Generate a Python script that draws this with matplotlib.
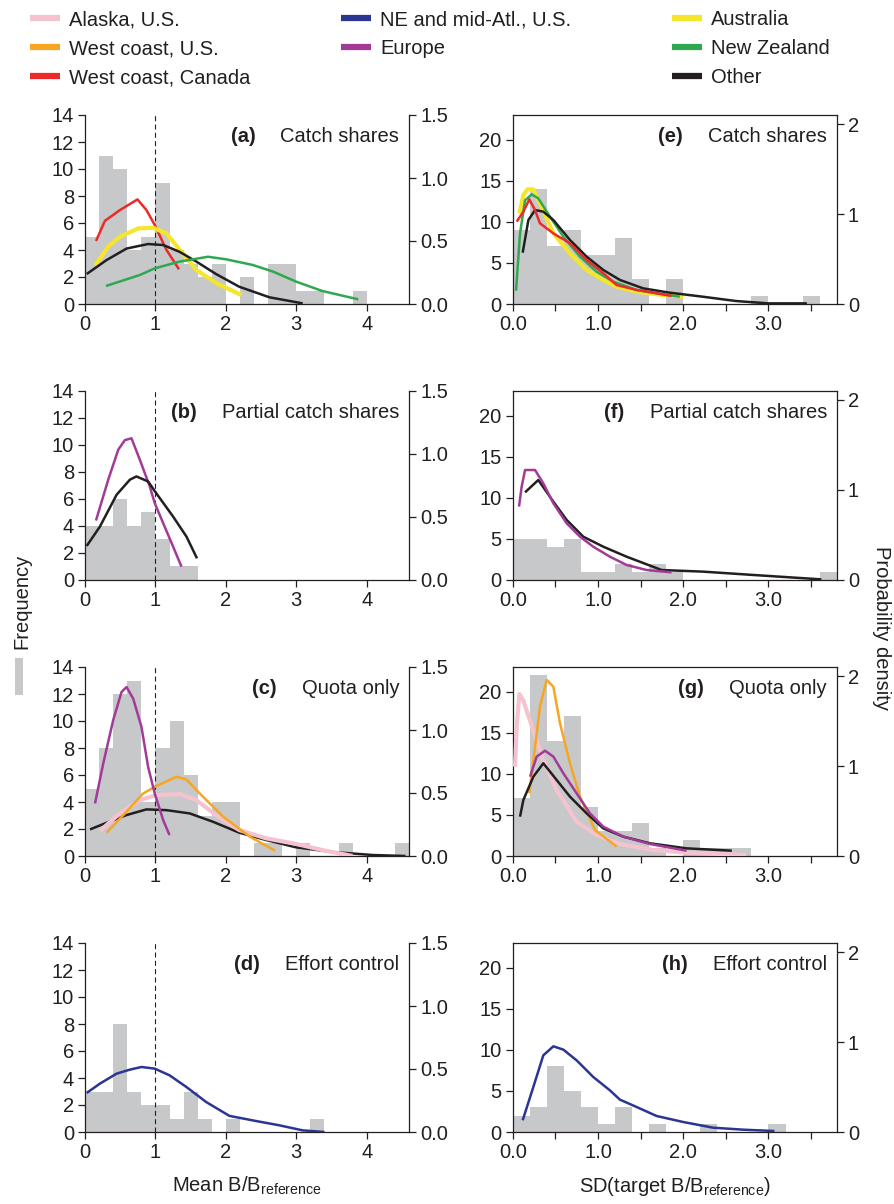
import matplotlib
matplotlib.use('Agg')
import matplotlib.pyplot as plt
from matplotlib.lines import Line2D
from matplotlib.patches import Rectangle

plt.rcParams['font.family'] = ['Liberation Sans', 'DejaVu Sans']
plt.rcParams['mathtext.default'] = 'regular'
plt.rcParams['font.size'] = 14.5

INK = '#231f20'
GREY = '#c7c8ca'
c_alaska = '#f4c3cf'
c_ne = '#2b3592'
c_aus = '#f5e62b'
c_wus = '#f6a623'
c_eur = '#a23b97'
c_nz = '#2fa84f'
c_can = '#ec2a2a'
c_other = '#231f20'

# histogram counts, bins of width 0.2 starting at 0
a_counts = [5, 11, 10, 4, 5, 9, 4, 3, 2, 3, 0, 2, 0, 3, 3, 1, 1, 0, 0, 1]
b_counts = [4, 4, 6, 4, 5, 3, 1, 1]
c_counts = [5, 8, 12, 13, 4, 8, 10, 6, 3, 4, 4, 0, 1, 1, 0, 1, 0, 0, 1, 0, 0, 0, 1]
d_counts = [3, 3, 8, 3, 2, 2, 1, 3, 1, 0, 1, 0, 0, 0, 0, 0, 1]
e_counts = [9, 14, 7, 9, 6, 6, 8, 3, 0, 3, 0, 0, 0, 0, 1, 0, 0, 1]
f_counts = [5, 5, 4, 5, 1, 1, 2, 1, 2, 1, 0, 0, 0, 0, 0, 0, 0, 0, 1]
g_counts = [7, 22, 14, 17, 6, 3, 3, 4, 1, 0, 2, 1, 1, 1]
h_counts = [2, 3, 8, 5, 3, 1, 3, 0, 1, 0, 0, 1, 0, 0, 0, 1]

# probability density curves
a_can_x = [0.156, 0.283, 0.495, 0.745, 0.873, 0.99, 1.156, 1.335]
a_can_y = [0.50, 0.66, 0.745, 0.83, 0.745, 0.627, 0.43, 0.275]
a_aus_x = [0.142, 0.33, 0.495, 0.755, 0.967, 1.156, 1.39, 1.58, 1.87, 2.22]
a_aus_y = [0.304, 0.455, 0.534, 0.60, 0.605, 0.56, 0.40, 0.27, 0.164, 0.071]
a_oth_x = [0.024, 0.307, 0.59, 0.896, 1.11, 1.34, 1.58, 1.86, 2.19, 2.62, 3.09]
a_oth_y = [0.238, 0.349, 0.44, 0.476, 0.468, 0.415, 0.337, 0.238, 0.137, 0.053, 0.005]
a_nz_x = [0.297, 0.778, 0.99, 1.34, 1.745, 2.0, 2.38, 2.67, 3.0, 3.37, 3.88]
a_nz_y = [0.143, 0.23, 0.283, 0.336, 0.375, 0.355, 0.31, 0.257, 0.177, 0.103, 0.037]

b_eur_x = [0.156, 0.33, 0.472, 0.566, 0.66, 0.778, 0.92, 0.99, 1.11, 1.25, 1.37]
b_eur_y = [0.472, 0.796, 1.034, 1.11, 1.125, 0.955, 0.742, 0.61, 0.451, 0.266, 0.106]
b_oth_x = [0.024, 0.212, 0.448, 0.637, 0.73, 0.896, 1.01, 1.25, 1.44, 1.59]
b_oth_y = [0.27, 0.424, 0.676, 0.796, 0.822, 0.782, 0.69, 0.504, 0.345, 0.172]

c_eur_x = [0.142, 0.259, 0.4, 0.519, 0.59, 0.684, 0.802, 0.896, 0.99, 1.11, 1.2]
c_eur_y = [0.417, 0.734, 1.078, 1.302, 1.341, 1.249, 1.024, 0.707, 0.496, 0.285, 0.166]
c_wus_x = [0.307, 0.566, 0.825, 0.99, 1.297, 1.44, 1.63, 1.96, 2.34, 2.70]
c_wus_y = [0.185, 0.338, 0.496, 0.549, 0.629, 0.607, 0.496, 0.312, 0.153, 0.042]
c_ala_x = [0.212, 0.495, 0.778, 1.014, 1.344, 1.58, 1.86, 2.19, 2.57, 2.995, 3.37, 3.80]
c_ala_y = [0.2, 0.338, 0.444, 0.483, 0.491, 0.444, 0.325, 0.206, 0.14, 0.096, 0.047, 0.0]
c_oth_x = [0.071, 0.307, 0.59, 0.873, 1.156, 1.486, 1.816, 2.19, 2.57, 2.995, 3.51, 4.08, 4.55]
c_oth_y = [0.211, 0.264, 0.325, 0.37, 0.364, 0.338, 0.272, 0.185, 0.127, 0.069, 0.032, 0.008, 0.0]

d_ne_x = [0.024, 0.212, 0.448, 0.637, 0.802, 0.99, 1.2, 1.44, 1.72, 2.05, 2.43, 2.76, 3.09, 3.40]
d_ne_y = [0.31, 0.384, 0.463, 0.495, 0.516, 0.503, 0.45, 0.357, 0.238, 0.128, 0.087, 0.053, 0.013, 0.0]

e_aus_x = [0.078, 0.125, 0.172, 0.242, 0.32, 0.477, 0.672, 0.867, 1.0625, 1.219, 1.453, 1.6875, 2.0]
e_aus_y = [1.007, 1.21, 1.274, 1.274, 1.118, 0.785, 0.563, 0.378, 0.267, 0.193, 0.137, 0.107, 0.081]
e_nz_x = [0.039, 0.086, 0.145, 0.223, 0.3, 0.4375, 0.594, 0.789, 0.984, 1.18, 1.453, 1.6875, 1.96]
e_nz_y = [0.148, 0.785, 1.152, 1.218, 1.174, 0.97, 0.748, 0.526, 0.359, 0.248, 0.156, 0.119, 0.081]
e_can_x = [0.047, 0.125, 0.195, 0.262, 0.32, 0.477, 0.672, 0.867, 1.0625, 1.219, 1.453, 1.648, 1.863]
e_can_y = [0.915, 1.026, 1.163, 1.044, 0.896, 0.785, 0.674, 0.489, 0.341, 0.211, 0.156, 0.126, 0.089]
e_oth_x = [0.117, 0.184, 0.262, 0.359, 0.477, 0.672, 0.867, 1.0625, 1.258, 1.53, 1.84, 2.23, 2.62, 3.0, 3.45]
e_oth_y = [0.57, 0.933, 1.044, 1.026, 0.933, 0.711, 0.526, 0.378, 0.267, 0.174, 0.126, 0.081, 0.033, 0.007, 0.007]

f_eur_x = [0.074, 0.105, 0.145, 0.262, 0.359, 0.477, 0.633, 0.789, 0.945, 1.14, 1.336, 1.57, 1.863]
f_eur_y = [0.815, 1.037, 1.222, 1.222, 1.074, 0.852, 0.63, 0.481, 0.37, 0.259, 0.167, 0.111, 0.085]
f_oth_x = [0.145, 0.3, 0.477, 0.633, 0.828, 1.0625, 1.336, 1.746, 2.23, 2.82, 3.62]
f_oth_y = [0.974, 1.111, 0.87, 0.667, 0.481, 0.37, 0.259, 0.111, 0.093, 0.056, 0.007]

g_ala_x = [0.027, 0.047, 0.078, 0.125, 0.242, 0.359, 0.516, 0.75, 0.984, 1.258, 1.648, 2.04, 2.74]
g_ala_y = [0.993, 1.437, 1.8, 1.726, 1.393, 1.067, 0.733, 0.381, 0.233, 0.133, 0.067, 0.037, 0.011]
g_wus_x = [0.195, 0.262, 0.32, 0.398, 0.477, 0.555, 0.672, 0.789, 0.965, 1.219]
g_wus_y = [0.696, 1.215, 1.659, 1.956, 1.881, 1.474, 1.03, 0.659, 0.289, 0.104]
g_eur_x = [0.203, 0.281, 0.379, 0.477, 0.594, 0.75, 0.906, 1.0625, 1.297, 1.61, 2.04]
g_eur_y = [0.881, 1.104, 1.17, 1.104, 0.919, 0.696, 0.474, 0.326, 0.215, 0.133, 0.059]
g_oth_x = [0.086, 0.125, 0.242, 0.359, 0.516, 0.672, 0.867, 1.0625, 1.297, 1.61, 2.04, 2.57]
g_oth_y = [0.437, 0.622, 0.881, 1.03, 0.844, 0.659, 0.474, 0.307, 0.215, 0.141, 0.085, 0.059]

h_ne_x = [0.117, 0.242, 0.359, 0.477, 0.594, 0.75, 0.945, 1.14, 1.258, 1.453, 1.687, 2.0, 2.35, 2.70, 3.07]
h_ne_y = [0.13, 0.5, 0.852, 0.952, 0.915, 0.796, 0.611, 0.463, 0.359, 0.278, 0.178, 0.111, 0.048, 0.026, 0.011]

legend_labels = ['Alaska, U.S.', 'West coast, U.S.', 'West coast, Canada',
                 'NE and mid-Atl., U.S.', 'Europe',
                 'Australia', 'New Zealand', 'Other']
legend_colors = [c_alaska, c_wus, c_can, c_ne, c_eur, c_aus, c_nz, c_other]

thick = {c_alaska: 3.0, c_aus: 3.0}

panels = [
    ('(a)', 'Catch shares', 0, a_counts,
     [(a_can_x, a_can_y, c_can), (a_aus_x, a_aus_y, c_aus),
      (a_oth_x, a_oth_y, c_other), (a_nz_x, a_nz_y, c_nz)]),
    ('(b)', 'Partial catch shares', 0, b_counts,
     [(b_eur_x, b_eur_y, c_eur), (b_oth_x, b_oth_y, c_other)]),
    ('(c)', 'Quota only', 0, c_counts,
     [(c_oth_x, c_oth_y, c_other), (c_ala_x, c_ala_y, c_alaska),
      (c_wus_x, c_wus_y, c_wus), (c_eur_x, c_eur_y, c_eur)]),
    ('(d)', 'Effort control', 0, d_counts,
     [(d_ne_x, d_ne_y, c_ne)]),
    ('(e)', 'Catch shares', 1, e_counts,
     [(e_aus_x, e_aus_y, c_aus), (e_nz_x, e_nz_y, c_nz),
      (e_oth_x, e_oth_y, c_other), (e_can_x, e_can_y, c_can)]),
    ('(f)', 'Partial catch shares', 1, f_counts,
     [(f_oth_x, f_oth_y, c_other), (f_eur_x, f_eur_y, c_eur)]),
    ('(g)', 'Quota only', 1, g_counts,
     [(g_ala_x, g_ala_y, c_alaska), (g_wus_x, g_wus_y, c_wus),
      (g_oth_x, g_oth_y, c_other), (g_eur_x, g_eur_y, c_eur)]),
    ('(h)', 'Effort control', 1, h_counts,
     [(h_ne_x, h_ne_y, c_ne)]),
]

fig = plt.figure(figsize=(8.95, 12.04), dpi=100)
W, H = 895, 1204
col_left = [85, 512.7]
col_width = 324
row_bottom = [304, 580, 856, 1132]
ax_h = 189
FS = 14.5

for i, (tag, title, col, counts, curves) in enumerate(panels):
    row = i % 4
    ax = fig.add_axes([col_left[col] / W, 1 - row_bottom[row] / H, col_width / W, ax_h / H])
    ax2 = ax.twinx()
    edges = [0.2 * k for k in range(len(counts))]
    ax.bar(edges, counts, width=0.2, align='edge', color=GREY, linewidth=0, zorder=1)
    if col == 0:
        ax.axvline(1, color=INK, lw=0.8, dashes=(4.5, 3), zorder=2)
        ax.set_xlim(0, 4.6)
        ax.set_ylim(0, 14)
        ax.set_xticks([0, 1, 2, 3, 4])
        ax.set_yticks(range(0, 15, 2))
        ax2.set_ylim(0, 1.5)
        ax2.set_yticks([0, 0.5, 1.0, 1.5])
        ax2.set_yticklabels(['0.0', '0.5', '1.0', '1.5'])
        ax.spines['top'].set_visible(False)
        ax2.spines['top'].set_visible(False)
    else:
        ax.set_xlim(0, 3.8)
        ax.set_ylim(0, 23)
        ax.set_xticks([0.5 * k for k in range(8)])
        ax.set_xticklabels(['0.0', '', '1.0', '', '2.0', '', '3.0', ''])
        ax.set_yticks(range(0, 21, 5))
        ax2.set_ylim(0, 2.1)
        ax2.set_yticks([0, 1, 2])
        for s in ax2.spines.values():
            s.set_visible(False)
        ax2.spines['right'].set_visible(True)
    for s in list(ax.spines.values()) + list(ax2.spines.values()):
        s.set_color(INK)
        s.set_linewidth(0.9)
    ax.spines['right'].set_visible(False)
    ax2.spines['left'].set_visible(False)
    ax2.spines['bottom'].set_visible(False)
    for a in (ax, ax2):
        a.tick_params(direction='out', length=5, width=0.9, color=INK,
                      labelcolor=INK, labelsize=FS, pad=3)
    for xs, ys, c in curves:
        ax2.plot(xs, ys, color=c, lw=thick.get(c, 1.8), solid_capstyle='butt', zorder=3)
    t = ax.text(0.97, 0.835, title, transform=ax.transAxes, ha='right', va='bottom',
                fontsize=FS, color=INK, zorder=5)
    ax.annotate(tag, xy=(0, 0), xycoords=t, xytext=(-18, 0), textcoords='offset points',
                ha='right', va='bottom', fontsize=FS, fontweight='bold', color=INK)
    ax2.set_zorder(ax.get_zorder() + 1)

# legend, three columns
col_entries = [[0, 1, 2], [3, 4], [5, 6, 7]]
leg_x = [22, 333, 664]
for cx, idx in zip(leg_x, col_entries):
    handles = [Line2D([], [], color=legend_colors[k], lw=4.5, solid_capstyle='butt') for k in idx]
    fig.legend(handles, [legend_labels[k] for k in idx], loc='upper left',
               bbox_to_anchor=(cx / W, 1 - 2 / H), frameon=False, fontsize=FS,
               handlelength=1.5, handletextpad=0.45, labelspacing=0.5, borderaxespad=0,
               labelcolor=INK)

fig.text(22 / W, 1 - 601 / H, 'Frequency', rotation=90, ha='center', va='center',
         fontsize=FS, color=INK)
fig.add_artist(Rectangle((15 / W, 1 - 695 / H), 8 / W, 37 / H, transform=fig.transFigure,
                         color=GREY, lw=0))
fig.text(882 / W, 1 - 628 / H, 'Probability density', rotation=270, ha='center', va='center',
         fontsize=FS, color=INK)
fig.text(247 / W, 1 - 1186 / H, 'Mean B/B$_{reference}$', ha='center', va='center',
         fontsize=FS, color=INK)
fig.text(675 / W, 1 - 1186 / H, 'SD(target B/B$_{reference}$)', ha='center', va='center',
         fontsize=FS, color=INK)

fig.savefig('out.png', dpi=100)
